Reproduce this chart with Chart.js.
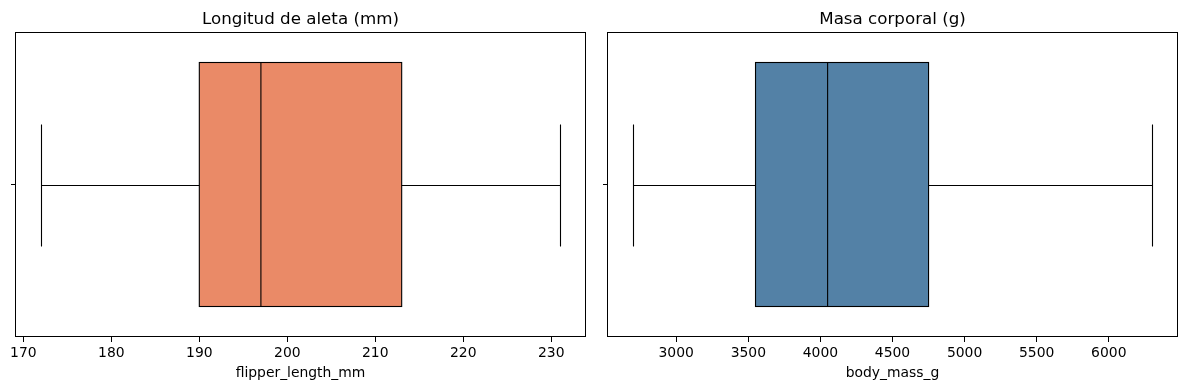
<!DOCTYPE html>
<html>
<head>
<meta charset="utf-8">
<script src="https://cdn.jsdelivr.net/npm/chart.js@4"></script>
<style>
  html, body { margin:0; padding:0; background:#fff; overflow:hidden; }
  #wrap { position:relative; width:1187px; height:390px; }
  .cell { position:absolute; top:0; height:390px; }
</style>
</head>
<body>
<div id="wrap">
  <div class="cell" style="left:0;width:596px;"><canvas id="c1"></canvas></div>
  <div class="cell" style="left:592px;width:595px;"><canvas id="c2"></canvas></div>
</div>
<script>
// ---- Data ----
const panelTitles = ["Longitud de aleta (mm)", "Masa corporal (g)"];
const axisTitles = ["flipper_length_mm", "body_mass_g"];
// five-number summaries: [whiskerLow, q1, median, q3, whiskerHigh]
const flipperStats = [172, 190, 197, 213, 231];
const massStats = [2700, 3550, 4050, 4750, 6300];
const flipperTicks = [170, 180, 190, 200, 210, 220, 230];
const massTicks = [3000, 3500, 4000, 4500, 5000, 5500, 6000];
const flipperRange = [169.05, 233.95];
const massRange = [2520, 6480];
const boxColors = ["#EA8A67", "#5381A6"];

const FONT = "'DejaVu Sans', sans-serif";

const framePlugin = {
  id: 'frameAndBox',
  afterDatasetsDraw(chart, args, opts) {
    const ctx = chart.ctx;
    const x = chart.scales.x, y = chart.scales.y;
    const s = opts.stats;
    const el = chart.getDatasetMeta(0).data[0];
    const cy = y.getPixelForValue(0);
    const h = el.height;
    const px = v => x.getPixelForValue(v);
    const rp = v => Math.round(x.getPixelForValue(v)) + 0.5;
    ctx.save();
    ctx.strokeStyle = '#000';
    ctx.lineWidth = 1.1;
    const ry = Math.round(cy) + 0.5;
    const top = cy - h / 2, bot = cy + h / 2;
    const capTop = Math.round(cy - h / 4) + 0.5, capBot = Math.round(cy + h / 4) + 0.5;
    ctx.beginPath();
    // whiskers
    ctx.moveTo(px(s[0]), ry); ctx.lineTo(px(s[1]), ry);
    ctx.moveTo(px(s[3]), ry); ctx.lineTo(px(s[4]), ry);
    // caps
    ctx.moveTo(rp(s[0]), capTop); ctx.lineTo(rp(s[0]), capBot);
    ctx.moveTo(rp(s[4]), capTop); ctx.lineTo(rp(s[4]), capBot);
    // median
    ctx.moveTo(px(s[2]), top); ctx.lineTo(px(s[2]), bot);
    ctx.stroke();
    // box outline (exact bar edges)
    ctx.strokeRect(px(s[1]), top, px(s[3]) - px(s[1]), bot - top);
    // frame
    const a = chart.chartArea;
    ctx.lineWidth = 1;
    ctx.strokeRect(Math.round(a.left) + 0.5, Math.round(a.top) + 0.5,
                   Math.round(a.right - a.left) - 1, Math.round(a.bottom - a.top) - 1);
    // panel title
    ctx.fillStyle = '#000';
    ctx.font = "16.7px " + FONT;
    ctx.textAlign = 'center';
    ctx.textBaseline = 'alphabetic';
    ctx.fillText(opts.title, (a.left + a.right) / 2, a.top - 8.5);
    ctx.restore();
  }
};

function makeChart(id, stats, ticks, range, color, title, xTitle, padRight) {
  return new Chart(document.getElementById(id), {
    type: 'bar',
    data: {
      labels: [''],
      datasets: [{
        data: [[stats[1], stats[3]]],
        backgroundColor: color,
        borderWidth: 0,
        barPercentage: 0.8,
        categoryPercentage: 1.0
      }]
    },
    options: {
      indexAxis: 'y',
      responsive: true,
      maintainAspectRatio: false,
      animation: false,
      layout: { padding: { top: 32, left: 0, right: padRight, bottom: 0 } },
      plugins: {
        legend: { display: false },
        tooltip: { enabled: false },
        title: { display: false },
        frameAndBox: { stats: stats, title: title }
      },
      scales: {
        x: {
          type: 'linear',
          min: range[0], max: range[1],
          afterBuildTicks(scale) { scale.ticks = ticks.map(v => ({ value: v })); },
          afterFit(scale) { scale.height = 53; },
          grid: { display: true, drawOnChartArea: false, drawTicks: true, tickLength: 5, color: '#000', tickColor: '#000' },
          border: { display: false },
          ticks: { color: '#000', font: { family: FONT, size: 13.9 }, padding: 3, maxRotation: 0, autoSkip: false,
                   callback: v => String(v) },
          title: { display: true, text: xTitle, color: '#000', font: { family: FONT, size: 13.9 }, padding: { top: 0, bottom: 8 } }
        },
        y: {
          type: 'category',
          afterFit(scale) { scale.width = 15; },
          grid: { display: true, drawOnChartArea: false, drawTicks: true, tickLength: 4, color: '#000', tickColor: '#000', offset: false },
          border: { display: false },
          ticks: { display: true, callback: () => '', padding: 0 }
        }
      }
    },
    plugins: [framePlugin]
  });
}

makeChart('c1', flipperStats, flipperTicks, flipperRange, boxColors[0], panelTitles[0], axisTitles[0], 10);
makeChart('c2', massStats, massTicks, massRange, boxColors[1], panelTitles[1], axisTitles[1], 9);
</script>
</body>
</html>
